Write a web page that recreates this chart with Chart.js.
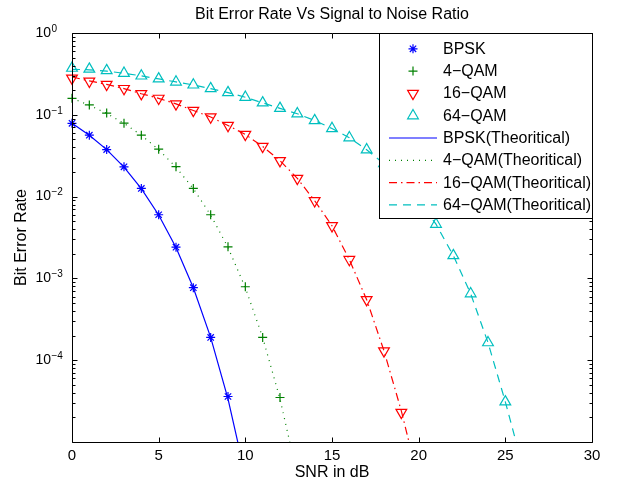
<!DOCTYPE html>
<html>
<head>
<meta charset="utf-8">
<script src="https://cdn.jsdelivr.net/npm/chart.js@4.4.0/dist/chart.umd.min.js"></script>
<style>
  html, body { margin: 0; padding: 0; background: #fff; }
</style>
</head>
<body>
<canvas id="ber" width="618" height="485"></canvas>
<script>
// ─── Data ────────────────────────────────────────────────────────────────────

const snrBpsk = [0, 1, 2, 3, 4, 5, 6, 7, 8, 9];
const berBpsk = [0.0786, 0.0563, 0.0376, 0.0231, 0.0126, 0.0060, 0.00241, 0.00077, 0.00019, 0.000036];

const snr4qam = [0, 1, 2, 3, 4, 5, 6, 7, 8, 9, 10, 11, 12];
const ber4qam = [0.159, 0.132, 0.105, 0.079, 0.0563, 0.0380, 0.0232, 0.0126, 0.0060, 0.00243, 0.00079, 0.00019, 0.000035];

const snr16qam = [0, 1, 2, 3, 4, 5, 6, 7, 8, 9, 10, 11, 12, 13, 14, 15, 16, 17, 18, 19];
const ber16qam = [0.28, 0.257, 0.235, 0.209, 0.181, 0.159, 0.136, 0.113, 0.094, 0.074, 0.0575, 0.041, 0.0275, 0.0167, 0.0089,
                  0.0044, 0.0017, 0.00055, 0.00013, 0.000023];

const snr64qam = [0, 1, 2, 3, 4, 5, 6, 7, 8, 9, 10, 11, 12, 13, 14, 15, 16, 17, 18, 19, 20, 21, 22, 23, 24, 25];
const ber64qam = [0.372, 0.362, 0.347, 0.322, 0.299, 0.275, 0.252, 0.232, 0.209, 0.187, 0.164, 0.14, 0.12, 0.103, 0.0851,
                  0.068, 0.0525, 0.0374, 0.0253, 0.0156, 0.0088, 0.0046, 0.0019, 0.00065, 0.000164, 0.000031];

// theoretical curves (same points, one more step past the bottom of the axis)
const snrBpskTh = [0, 1, 2, 3, 4, 5, 6, 7, 8, 9, 10];
const berBpskTh = [0.0786, 0.0563, 0.0375, 0.0229, 0.0125, 0.00595, 0.00239, 0.00077, 0.00019, 0.0000336, 0.0000039];

const snr4qamTh = [0, 1, 2, 3, 4, 5, 6, 7, 8, 9, 10, 11, 12, 13];
const ber4qamTh = [0.159, 0.131, 0.104, 0.0786, 0.0563, 0.0375, 0.0229, 0.0125, 0.00595, 0.00239, 0.00077, 0.00019, 0.0000336, 0.0000039];

const snr16qamTh = [0, 1, 2, 3, 4, 5, 6, 7, 8, 9, 10, 11, 12, 13, 14, 15, 16, 17, 18, 19, 20];
const ber16qamTh = [0.29, 0.26, 0.235, 0.209, 0.181, 0.159, 0.136, 0.113, 0.094, 0.074, 0.0575, 0.041, 0.0275, 0.0167, 0.0089,
                    0.0044, 0.0017, 0.00055, 0.00013, 0.000024, 0.0000033];

const snr64qamTh = [0, 1, 2, 3, 4, 5, 6, 7, 8, 9, 10, 11, 12, 13, 14, 15, 16, 17, 18, 19, 20, 21, 22, 23, 24, 25, 26];
const ber64qamTh = [0.36, 0.355, 0.342, 0.322, 0.299, 0.275, 0.252, 0.232, 0.209, 0.187, 0.164, 0.14, 0.12, 0.103, 0.0851,
                    0.068, 0.0525, 0.0374, 0.0253, 0.0156, 0.0088, 0.0046, 0.0019, 0.00065, 0.000164, 0.000031, 0.000005];

const xTicks = [0, 5, 10, 15, 20, 25, 30];
const yTickExp = [0, -1, -2, -3, -4];

const legendLabels = ['BPSK', '4\u2212QAM', '16\u2212QAM', '64\u2212QAM',
  'BPSK(Theoritical)', '4\u2212QAM(Theoritical)', '16\u2212QAM(Theoritical)', '64\u2212QAM(Theoritical)'];

// ─── Styles ──────────────────────────────────────────────────────────────────

const BLUE = '#0000ff', GREEN = '#008000', RED = '#ff0000', CYAN = '#00bfbf';
const FONT = "'Liberation Sans', Arial, Helvetica, sans-serif";
const pts = (xs, ys) => xs.map((x, i) => ({ x, y: ys[i] }));

function markerSet(label, xs, ys, color, style, radius, rotation) {
  return {
    label, data: pts(xs, ys), showLine: false, clip: false,
    borderColor: color, backgroundColor: 'rgba(0,0,0,0)',
    pointStyle: style, pointRadius: radius, pointRotation: rotation || 0,
    pointBorderWidth: 1.2, pointBorderColor: color, pointBackgroundColor: 'rgba(0,0,0,0)',
  };
}

function lineSet(label, xs, ys, color, dash) {
  return {
    label, data: pts(xs, ys), showLine: true,
    borderColor: color, borderWidth: 1.2, borderDash: dash,
    pointRadius: 0, fill: false, tension: 0,
  };
}

const datasets = [
  markerSet(legendLabels[0], snrBpsk, berBpsk, BLUE, 'star', 4.5),
  markerSet(legendLabels[1], snr4qam, ber4qam, GREEN, 'cross', 4.5),
  markerSet(legendLabels[2], snr16qam, ber16qam, RED, 'triangle', 6.2, 180),
  markerSet(legendLabels[3], snr64qam, ber64qam, CYAN, 'triangle', 6.2),
  lineSet(legendLabels[4], snrBpskTh, berBpskTh, BLUE, []),
  lineSet(legendLabels[5], snr4qamTh, ber4qamTh, GREEN, [1, 5]),
  lineSet(legendLabels[6], snr16qamTh, ber16qamTh, RED, [8, 4, 1.5, 4]),
  lineSet(legendLabels[7], snr64qamTh, ber64qamTh, CYAN, [8, 6]),
];

// ─── MATLAB-like box, inward ticks, superscript labels, title and legend ─────

const matlabAxes = {
  id: 'matlabAxes',
  afterDraw(chart) {
    const { ctx, chartArea: a, scales: { x, y } } = chart;
    const L = Math.round(a.left) + 0.5, R = Math.round(a.right) + 0.5;
    const T = Math.round(a.top) + 0.5, B = Math.round(a.bottom) + 0.5;
    ctx.save();

    // box + ticks
    ctx.strokeStyle = '#000';
    ctx.lineWidth = 1;
    ctx.setLineDash([]);
    ctx.beginPath();
    ctx.rect(L, T, R - L, B - T);
    xTicks.forEach(v => {
      const p = Math.round(x.getPixelForValue(v)) + 0.5;
      ctx.moveTo(p, B); ctx.lineTo(p, B - 5);
      ctx.moveTo(p, T); ctx.lineTo(p, T + 5);
    });
    for (let e = -5; e <= 0; e++) {
      for (let m = 1; m <= 9; m++) {
        const v = m * Math.pow(10, e);
        if (v > 1) break;
        const p = Math.round(y.getPixelForValue(v)) + 0.5;
        const len = m === 1 ? 5 : 3;
        ctx.moveTo(L, p); ctx.lineTo(L + len, p);
        ctx.moveTo(R, p); ctx.lineTo(R - len, p);
      }
    }
    ctx.stroke();

    // y tick labels 10^e
    ctx.fillStyle = '#000';
    ctx.textBaseline = 'middle';
    yTickExp.forEach(e => {
      const p = y.getPixelForValue(Math.pow(10, e));
      ctx.font = '14px ' + FONT;
      ctx.textAlign = 'right';
      ctx.fillText('10', a.left - 21, p);
      ctx.font = '10px ' + FONT;
      ctx.textAlign = 'left';
      ctx.fillText(e === 0 ? '0' : '\u2212' + (-e), a.left - 20.5, p - 4);
    });

    // title
    ctx.font = '16px ' + FONT;
    ctx.textAlign = 'center';
    ctx.fillText('Bit Error Rate Vs Signal to Noise Ratio', (a.left + a.right) / 2, 15);

    // legend box
    const bx = 379.5, by = T, bw = R - bx, bh = 185;
    ctx.fillStyle = '#fff';
    ctx.fillRect(bx, by, bw, bh);
    ctx.strokeStyle = '#000';
    ctx.strokeRect(bx, by, bw, bh);

    ctx.font = '16px ' + FONT;
    ctx.textAlign = 'left';
    datasets.forEach((ds, i) => {
      const ry = 48.8 + i * 22.3;
      ctx.strokeStyle = ds.borderColor;
      if (ds.showLine) {
        ctx.lineWidth = ds.borderWidth;
        ctx.setLineDash(ds.borderDash);
        ctx.beginPath();
        ctx.moveTo(389, ry); ctx.lineTo(437, ry);
        ctx.stroke();
        ctx.setLineDash([]);
      } else {
        ctx.lineWidth = 1.2;
        ctx.fillStyle = 'rgba(0,0,0,0)';
        Chart.helpers.drawPoint(ctx, {
          pointStyle: ds.pointStyle, radius: ds.pointRadius,
          rotation: ds.pointRotation, borderWidth: 1.2,
        }, 413, ry);
      }
      ctx.fillStyle = '#000';
      ctx.fillText(ds.label, 443, ry + 0.5);
    });
    ctx.restore();
  }
};

new Chart(document.getElementById('ber'), {
  type: 'scatter',
  data: { datasets },
  options: {
    responsive: false, animation: false, devicePixelRatio: 1,
    layout: { padding: { top: 33, right: 26, bottom: 0, left: 0 } },
    plugins: { legend: { display: false }, tooltip: { enabled: false }, title: { display: false } },
    scales: {
      x: {
        type: 'linear', min: 0, max: 30,
        afterBuildTicks: s => { s.ticks = xTicks.map(v => ({ value: v })); },
        afterFit: s => { s.height = 43; },
        ticks: { color: '#000', font: { family: FONT, size: 15 }, padding: 5 },
        grid: { display: false, drawTicks: false },
        border: { display: false },
        title: { display: true, text: 'SNR in dB', color: '#000', font: { family: FONT, size: 16 }, padding: { top: 0, bottom: 2.5 } },
      },
      y: {
        type: 'logarithmic', min: 1e-5, max: 1,
        afterBuildTicks: s => { s.ticks = yTickExp.map(e => ({ value: Math.pow(10, e) })); },
        afterFit: s => { s.width = 72; },
        ticks: { display: false },
        grid: { display: false, drawTicks: false },
        border: { display: false },
        title: { display: true, text: 'Bit Error Rate', color: '#000', font: { family: FONT, size: 16 }, padding: { top: 11.5, bottom: 0 } },
      }
    }
  },
  plugins: [matlabAxes]
});
</script>
</body>
</html>
